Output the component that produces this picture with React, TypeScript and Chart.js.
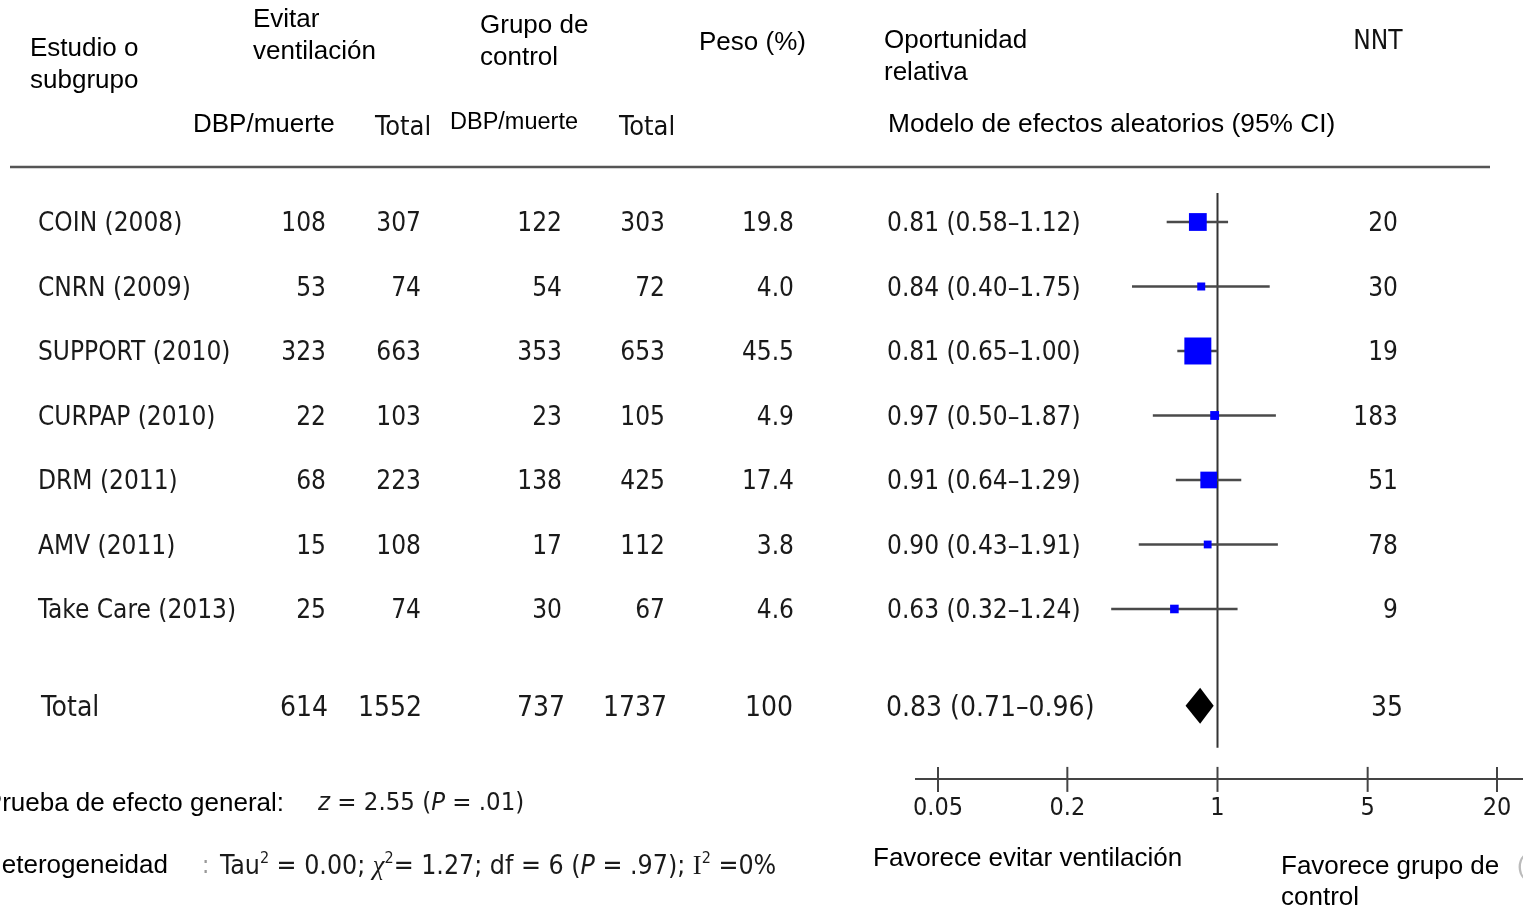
import React, { useEffect, useRef } from "react";
import { Chart, registerables } from "chart.js";
Chart.register(...registerables);

// ---------- data ----------
const studies = ["COIN (2008)", "CNRN (2009)", "SUPPORT (2010)", "CURPAP (2010)", "DRM (2011)", "AMV (2011)", "Take Care (2013)"];
const expEvents = [108, 53, 323, 22, 68, 15, 25];
const expTotal = [307, 74, 663, 103, 223, 108, 74];
const ctrlEvents = [122, 54, 353, 23, 138, 17, 30];
const ctrlTotal = [303, 72, 653, 105, 425, 112, 67];
const weights = [19.8, 4.0, 45.5, 4.9, 17.4, 3.8, 4.6];
const oddsRatio = [0.81, 0.84, 0.81, 0.97, 0.91, 0.9, 0.63];
const ciLow = [0.58, 0.4, 0.65, 0.5, 0.64, 0.43, 0.32];
const ciHigh = [1.12, 1.75, 1.0, 1.87, 1.29, 1.91, 1.24];
const nnt = [20, 30, 19, 183, 51, 78, 9];

const totalLabel = "Total";
const totalCounts = [614, 1552, 737, 1737];
const totalWeight = 100;
const totalOR = 0.83;
const totalLow = 0.71;
const totalHigh = 0.96;
const totalNNT = 35;

const axisTicks = [0.05, 0.2, 1, 5, 20];

const zValue = "2.55";
const zP = ".01";
const tau2 = "0.00";
const chi2 = "1.27";
const dfHet = 6;
const pHet = ".97";
const i2 = "0%";

// ---------- layout ----------
const W = 1523;
const H = 908;
const ARIAL = '"Liberation Sans", Arial, sans-serif';
const TAH = '"DejaVu Sans Condensed", "DejaVu Sans", sans-serif';
const SERIF = '"Liberation Serif", "DejaVu Serif", serif';
const TOTAL_ROW = 7.5;
const TY = 2.5; // visual centring offset for data text

const fmt2 = (v: number) => v.toFixed(2);

const forestPlugin = {
  id: "forestText",
  beforeDatasetsDraw(chart: any) {
    const ctx = chart.ctx;
    const xs = chart.scales.x;
    const ys = chart.scales.y;
    const x1 = xs.getPixelForValue(1);
    ctx.save();
    ctx.strokeStyle = "#333";
    ctx.lineWidth = 2;
    ctx.beginPath();
    ctx.moveTo(x1, ys.getPixelForValue(-0.45));
    ctx.lineTo(x1, ys.getPixelForValue(TOTAL_ROW) + 42);
    ctx.stroke();
    ctx.restore();
  },
  afterDraw(chart: any) {
    const ctx = chart.ctx;
    const xs = chart.scales.x;
    const ys = chart.scales.y;
    ctx.save();
    const txt = (s: string, x: number, y: number, font: string, align: CanvasTextAlign = "left", color = "#111") => {
      ctx.font = font;
      ctx.textAlign = align;
      ctx.textBaseline = "middle";
      ctx.fillStyle = color;
      ctx.fillText(s, x, y);
    };
    const rich = (segs: any[], x: number, y: number, size: number, color = "#1a1a1a") => {
      let cx = x;
      ctx.textAlign = "left";
      ctx.textBaseline = "middle";
      ctx.fillStyle = color;
      for (const s of segs) {
        const sz = s.sup ? Math.round(size * 0.62) : size;
        const fam = s.serif ? SERIF : TAH;
        ctx.font = (s.it ? "italic " : "") + sz + "px " + fam;
        const yy = s.sup ? y - size * 0.3 : y;
        ctx.fillText(s.t, cx, yy);
        cx += ctx.measureText(s.t).width;
      }
    };

    // headers
    const A26 = "26px " + ARIAL;
    txt("Estudio o", 30, 49, A26, "left", "#000");
    txt("subgrupo", 30, 81, A26, "left", "#000");
    txt("Evitar", 253, 20, A26, "left", "#000");
    txt("ventilación", 253, 52, A26, "left", "#000");
    txt("Grupo de", 480, 26, A26, "left", "#000");
    txt("control", 480, 58, A26, "left", "#000");
    txt("Peso (%)", 699, 43, A26, "left", "#000");
    txt("Oportunidad", 884, 41, A26, "left", "#000");
    txt("relativa", 884, 73, A26, "left", "#000");
    txt("NNT", 1378, 42, "26px " + TAH, "center", "#111");
    txt("DBP/muerte", 193, 125, A26, "left", "#000");
    txt("Total", 375, 128, "27px " + TAH, "left", "#111");
    txt("DBP/muerte", 450, 123, "23.5px " + ARIAL, "left", "#000");
    txt("Total", 619, 128, "27px " + TAH, "left", "#111");
    txt("Modelo de efectos aleatorios (95% CI)", 888, 125, "26.3px " + ARIAL, "left", "#000");

    // header rule
    ctx.strokeStyle = "#555";
    ctx.lineWidth = 2.5;
    ctx.beginPath();
    ctx.moveTo(10, 167);
    ctx.lineTo(1490, 167);
    ctx.stroke();

    // rows
    const D = "26px " + TAH;
    studies.forEach((name, i) => {
      const y = ys.getPixelForValue(i) + TY;
      txt(name, 38, y, D, "left", "#1a1a1a");
      txt(String(expEvents[i]), 326, y, D, "right", "#1a1a1a");
      txt(String(expTotal[i]), 421, y, D, "right", "#1a1a1a");
      txt(String(ctrlEvents[i]), 562, y, D, "right", "#1a1a1a");
      txt(String(ctrlTotal[i]), 665, y, D, "right", "#1a1a1a");
      txt(weights[i].toFixed(1), 794, y, D, "right", "#1a1a1a");
      txt(`${fmt2(oddsRatio[i])} (${fmt2(ciLow[i])}–${fmt2(ciHigh[i])})`, 887, y, D, "left", "#1a1a1a");
      txt(String(nnt[i]), 1398, y, D, "right", "#1a1a1a");
    });
    const yt = ys.getPixelForValue(TOTAL_ROW);
    const T = "28px " + TAH;
    const ytt = yt + TY;
    txt(totalLabel, 41, ytt, T, "left", "#1a1a1a");
    txt(String(totalCounts[0]), 328, ytt, T, "right", "#1a1a1a");
    txt(String(totalCounts[1]), 422, ytt, T, "right", "#1a1a1a");
    txt(String(totalCounts[2]), 565, ytt, T, "right", "#1a1a1a");
    txt(String(totalCounts[3]), 667, ytt, T, "right", "#1a1a1a");
    txt(String(totalWeight), 793, ytt, T, "right", "#1a1a1a");
    txt(`${fmt2(totalOR)} (${fmt2(totalLow)}–${fmt2(totalHigh)})`, 886, ytt, T, "left", "#1a1a1a");
    txt(String(totalNNT), 1403, ytt, T, "right", "#1a1a1a");

    // diamond
    const dl = xs.getPixelForValue(totalLow);
    const dm = xs.getPixelForValue(totalOR);
    const dr = xs.getPixelForValue(totalHigh);
    ctx.fillStyle = "#000";
    ctx.beginPath();
    ctx.moveTo(dl, yt);
    ctx.lineTo(dm, yt - 18);
    ctx.lineTo(dr, yt);
    ctx.lineTo(dm, yt + 18);
    ctx.closePath();
    ctx.fill();

    // x axis
    const ay = chart.chartArea.bottom - 1;
    ctx.strokeStyle = "#444";
    ctx.lineWidth = 2;
    ctx.beginPath();
    ctx.moveTo(915, ay);
    ctx.lineTo(W, ay);
    ctx.stroke();
    axisTicks.forEach((t) => {
      const px = xs.getPixelForValue(t);
      ctx.beginPath();
      ctx.moveTo(px, ay - 12);
      ctx.lineTo(px, ay + 13);
      ctx.stroke();
      txt(String(t), px, ay + 30, "25px " + TAH, "center", "#1a1a1a");
    });

    // favours
    txt("Favorece evitar ventilación", 873, 859, A26, "left", "#000");
    txt("Favorece grupo de", 1281, 867, A26, "left", "#000");
    txt("control", 1281, 898, A26, "left", "#000");
    txt("(", 1517, 867, A26, "left", "#bbb");

    // footer stats
    txt("Prueba de efecto general:", 284, 804, A26, "right", "#000");
    rich([{ t: "z", it: true }, { t: ` = ${zValue} (` }, { t: "P", it: true }, { t: ` = ${zP})` }], 318, 803, 25.5);
    txt("Heterogeneidad", 168, 866, A26, "right", "#000");
    txt(":", 202, 867, "24px " + TAH, "left", "#999");
    rich(
      [
        { t: "Tau" },
        { t: "2", sup: true },
        { t: ` = ${tau2}; ` },
        { t: "χ", serif: true, it: true },
        { t: "2", sup: true },
        { t: `= ${chi2}; df = ${dfHet} (` },
        { t: "P", it: true },
        { t: ` = ${pHet}); ` },
        { t: "I", serif: true },
        { t: "2", sup: true },
        { t: ` =${i2}` },
      ],
      220,
      867,
      26.5
    );
    ctx.restore();
  },
};

export default function App() {
  const ref = useRef<HTMLCanvasElement | null>(null);
  useEffect(() => {
    document.body.style.margin = "0";
    if (!ref.current) return;
    const ciSets = studies.map((_, i) => ({
      data: [
        { x: ciLow[i], y: i },
        { x: ciHigh[i], y: i },
      ],
      showLine: true,
      borderColor: "#4a4a4a",
      borderWidth: 2.5,
      pointRadius: 0,
      pointHoverRadius: 0,
      clip: false as any,
    }));
    const squares = {
      data: studies.map((_, i) => ({ x: oddsRatio[i], y: i })),
      pointStyle: "rect" as const,
      pointRadius: weights.map((w) => (4 * Math.sqrt(w)) / Math.SQRT2),
      backgroundColor: "#0000ff",
      borderColor: "#0000ff",
      borderWidth: 0,
      showLine: false,
      clip: false as any,
    };
    const chart = new Chart(ref.current, {
      type: "scatter",
      data: { datasets: [squares as any, ...ciSets] },
      plugins: [forestPlugin as any],
      options: {
        animation: false,
        responsive: false,
        devicePixelRatio: 1,
        layout: { padding: { left: 938, right: 26, top: 189.75, bottom: H - 779.9 } },
        plugins: { legend: { display: false }, tooltip: { enabled: false }, title: { display: false } },
        scales: {
          x: { type: "logarithmic", min: 0.05, max: 20, display: false },
          y: { type: "linear", min: -0.5, max: 8.65, reverse: true, display: false },
        },
      },
    });
    return () => chart.destroy();
  }, []);
  return (
    <div style={{ position: "fixed", left: 0, top: 0, width: W, height: H, background: "#fff" }}>
      <canvas ref={ref} width={W} height={H} style={{ display: "block" }} />
    </div>
  );
}
